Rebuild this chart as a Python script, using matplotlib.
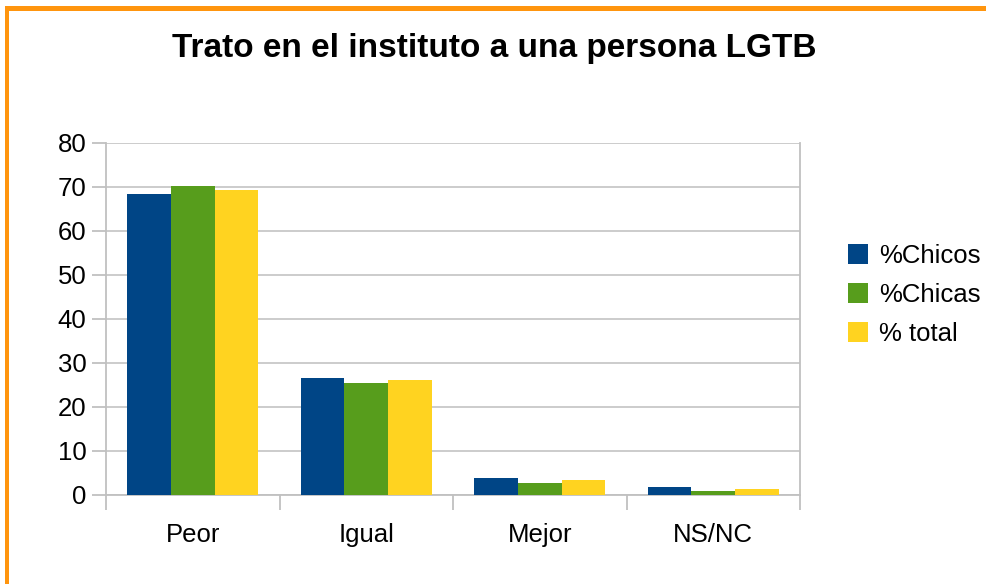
import matplotlib
matplotlib.use("Agg")
import matplotlib.pyplot as plt
import numpy as np
from matplotlib.patches import Rectangle

categories = ["Peor", "Igual", "Mejor", "NS/NC"]
series_names = ["%Chicos", "%Chicas", "% total"]
chicos = [68.5, 26.7, 3.9, 1.8]
chicas = [70.3, 25.5, 2.7, 0.9]
total = [69.4, 26.2, 3.4, 1.4]
colors = ["#004586", "#579d1c", "#ffd320"]
yticks = [0, 10, 20, 30, 40, 50, 60, 70, 80]

plt.rcParams['font.family'] = ['Liberation Sans', 'DejaVu Sans']

W, H = 986, 584
fig = plt.figure(figsize=(W / 100, H / 100), dpi=100)
fig.patch.set_facecolor("white")

# Orange border (left and top)
orange = "#ff950e"
fig.add_artist(Rectangle((5 / W, 0), 4 / W, 1 - 6 / H, transform=fig.transFigure,
                         facecolor=orange, edgecolor="none"))
fig.add_artist(Rectangle((5 / W, 1 - 11 / H), 1 - 5 / W, 5 / H, transform=fig.transFigure,
                         facecolor=orange, edgecolor="none"))

ax = fig.add_axes([106 / W, (H - 495) / H, (800 - 106) / W, (495 - 143) / H])
x = np.arange(len(categories))
bw = 0.252
for i, (vals, c, name) in enumerate(zip([chicos, chicas, total], colors, series_names)):
    ax.bar(x + (i - 1) * bw, vals, width=bw, color=c, label=name, zorder=3, linewidth=0)

fs = 18.5
ax.set_xlim(-0.5, len(categories) - 0.5)
ax.set_ylim(0, 80)
ax.set_yticks(yticks)
ax.set_yticklabels([str(v) for v in yticks], fontsize=fs)
ax.set_xticks(x)
ax.set_xticklabels(categories, fontsize=fs)
ax.tick_params(axis='x', length=0, pad=20)
ax.set_xticks(np.arange(-0.5, len(categories), 1.0), minor=True)
ax.tick_params(axis='x', which='minor', length=11, color="#c0c0c0", width=1.3)
ax.tick_params(axis='y', length=10, color="#c0c0c0", width=1.3, pad=4)
ax.grid(axis='y', color="#c8c8c8", linewidth=1.3, zorder=0)
for s in ["left", "right", "bottom", "top"]:
    ax.spines[s].set_color("#c0c0c0")
    ax.spines[s].set_linewidth(1.3)
ax.spines["top"].set_visible(False)

fig.text(494 / W, 1 - 57 / H, "Trato en el instituto a una persona LGTB",
         ha="center", va="baseline", fontsize=24, fontweight="bold")

leg = ax.legend(loc="center left", bbox_to_anchor=(1.069, 0.568), frameon=False,
                fontsize=fs, handlelength=0.8, handleheight=0.8, handletextpad=0.4,
                labelspacing=0.58, borderaxespad=0, borderpad=0)

fig.savefig("out.png", dpi=100, facecolor="white")
